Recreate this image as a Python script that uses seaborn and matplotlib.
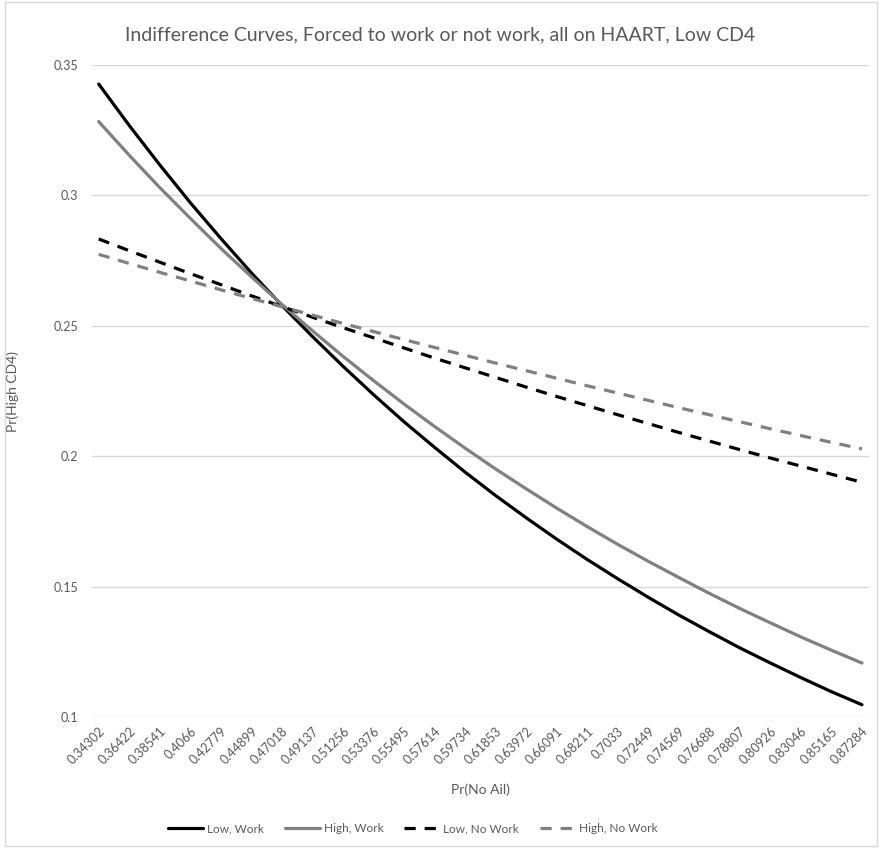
import matplotlib
matplotlib.use("Agg")
import matplotlib.pyplot as plt
import seaborn as sns
from matplotlib.patches import Rectangle
from matplotlib.lines import Line2D

sns.set_theme(style="white")
plt.rcParams['font.family'] = ['Lato', 'DejaVu Sans']

x_labels = ["0.34302", "0.36422", "0.38541", "0.4066", "0.42779", "0.44899", "0.47018",
            "0.49137", "0.51256", "0.53376", "0.55495", "0.57614", "0.59734", "0.61853",
            "0.63972", "0.66091", "0.68211", "0.7033", "0.72449", "0.74569", "0.76688",
            "0.78807", "0.80926", "0.83046", "0.85165", "0.87284"]

low_work = [0.3427, 0.3268, 0.3117, 0.2972, 0.2835, 0.2703, 0.2578, 0.2459, 0.2345,
            0.2236, 0.2132, 0.2034, 0.1939, 0.1849, 0.1764, 0.1682, 0.1604, 0.1530,
            0.1459, 0.1391, 0.1327, 0.1265, 0.1207, 0.1151, 0.1097, 0.1047]
high_work = [0.3283, 0.3154, 0.3030, 0.2912, 0.2797, 0.2688, 0.2582, 0.2481, 0.2383,
             0.2290, 0.2200, 0.2114, 0.2031, 0.1951, 0.1875, 0.1801, 0.1730, 0.1662,
             0.1597, 0.1535, 0.1474, 0.1416, 0.1361, 0.1307, 0.1256, 0.1207]
low_nowork = [0.2833, 0.2788, 0.2744, 0.2700, 0.2658, 0.2615, 0.2574, 0.2533, 0.2493,
              0.2454, 0.2415, 0.2376, 0.2339, 0.2302, 0.2265, 0.2229, 0.2194, 0.2159,
              0.2125, 0.2091, 0.2058, 0.2025, 0.1993, 0.1962, 0.1931, 0.1900]
high_nowork = [0.2774, 0.2739, 0.2705, 0.2672, 0.2638, 0.2605, 0.2573, 0.2541, 0.2509,
               0.2478, 0.2447, 0.2417, 0.2387, 0.2357, 0.2328, 0.2299, 0.2270, 0.2242,
               0.2214, 0.2186, 0.2159, 0.2132, 0.2105, 0.2079, 0.2053, 0.2028]

series_names = ["Low, Work", "High, Work", "Low, No Work", "High, No Work"]
series_vals = [low_work, high_work, low_nowork, high_nowork]
series_colors = ["#000000", "#808080", "#000000", "#808080"]
series_dash = [False, False, True, True]
dash_style = (0, (3.5, 2.8))

fig = plt.figure(figsize=(8.8, 8.48), dpi=100)
ax = fig.add_axes([92/880, 1-717/848, (869-92)/880, (717-65)/848])

idx = list(range(len(x_labels)))
lw = 2.3
for name, vals, col, dashed in zip(series_names, series_vals, series_colors, series_dash):
    sns.lineplot(x=idx, y=vals, ax=ax, color=col, linewidth=lw, label=name, legend=False)
    if dashed:
        ax.lines[-1].set_linestyle(dash_style)

ax.set_xlim(-0.22, 25.23)
ax.set_ylim(0.1, 0.35)
ax.set_yticks([0.1, 0.15, 0.2, 0.25, 0.3, 0.35])
ax.set_yticklabels(["0.1", "0.15", "0.2", "0.25", "0.3", "0.35"])
ax.set_xticks(idx)
ax.set_xticklabels(x_labels, rotation=45, ha="right", rotation_mode="anchor")
ax.tick_params(axis="both", colors="#595959", labelsize=9, length=0)
ax.tick_params(axis="y", pad=10)
ax.tick_params(axis="x", pad=6)
ax.grid(axis="y", color="#D9D9D9", linewidth=1.0)
ax.grid(axis="x", visible=False)
for s in ax.spines.values():
    s.set_visible(False)

ax.set_xlabel("Pr(No Ail)", color="#595959", fontsize=10, labelpad=12)
ax.set_ylabel("Pr(High CD4)", color="#595959", fontsize=10)
ax.yaxis.set_label_coords((19 - 92) / 777, 0.5)

fig.text(0.5, 1 - 35/848, "Indifference Curves, Forced to work or not work, all on HAART, Low CD4",
         ha="center", va="center", fontsize=14, color="#595959")

handles = []
for col, dashed in zip(series_colors, series_dash):
    handles.append(Line2D([], [], color=col, linewidth=lw,
                          linestyle=dash_style if dashed else "-"))
fig.legend(handles, series_names, loc="center", bbox_to_anchor=(0.469, 1 - 829/848),
           ncol=4, frameon=False, fontsize=8.5, handlelength=3.0, columnspacing=1.8,
           handletextpad=0.3, labelcolor="#595959")

fig.patches.append(Rectangle((5/880, 2/848), 872/880, 844/848, transform=fig.transFigure,
                             fill=False, edgecolor="#D9D9D9", linewidth=1.0))

fig.savefig("out.png", dpi=100)
